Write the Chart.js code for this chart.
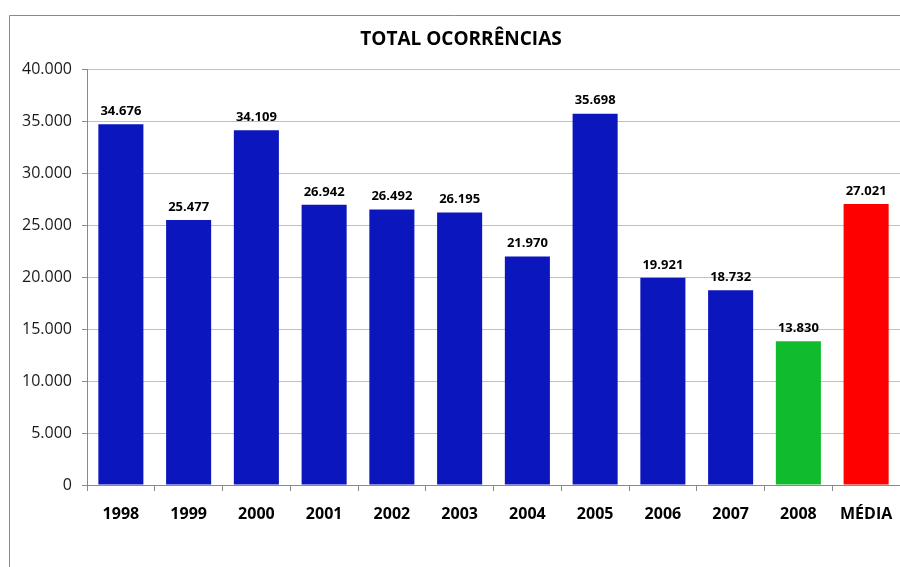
<!DOCTYPE html>
<html>
<head>
<meta charset="utf-8">
<script src="https://cdn.jsdelivr.net/npm/chart.js@4/dist/chart.umd.min.js"></script>
<style>
  body { margin: 0; background: #fff; }
  canvas { display: block; }
</style>
</head>
<body>
<canvas id="myChart" width="900" height="567"></canvas>
<script>
// values
var categories = ['1998', '1999', '2000', '2001', '2002', '2003', '2004', '2005', '2006', '2007', '2008', 'MÉDIA'];
var totals = [34676, 25477, 34109, 26942, 26492, 26195, 21970, 35698, 19921, 18732, 13830, 27021];
var yTicks = [0, 5000, 10000, 15000, 20000, 25000, 30000, 35000, 40000];

var FONT = "'Open Sans', 'Liberation Sans', sans-serif";

function fmt(v) {
    return String(v).replace(/\B(?=(\d{3})+(?!\d))/g, '.');
}

var barColors = categories.map(function(c) {
    if (c === 'MÉDIA') return '#ff0000';
    if (c === '2008') return '#10bc2e';
    return '#0c16bd';
});

// frame, title and the value labels above the bars
var extras = {
    id: 'extras',
    beforeDraw: function(chart) {
        var c = chart.ctx;
        c.save();
        c.strokeStyle = '#8a8a8a';
        c.lineWidth = 1;
        c.beginPath();
        c.moveTo(9.5, 567);
        c.lineTo(9.5, 15.5);
        c.lineTo(900, 15.5);
        c.stroke();
        c.restore();
    },
    afterDatasetsDraw: function(chart) {
        var c = chart.ctx;
        c.save();
        c.font = 'bold 19px ' + FONT;
        c.fillStyle = '#000';
        c.textAlign = 'center';
        c.textBaseline = 'middle';
        c.fillText('TOTAL OCORRÊNCIAS', 461, 40);

        c.font = 'bold 13px ' + FONT;
        var meta = chart.getDatasetMeta(0);
        meta.data.forEach(function(bar, i) {
            c.fillText(fmt(totals[i]), bar.x, bar.y - 13);
        });
        c.restore();
    }
};

var ctx = document.getElementById('myChart');
var myChart = new Chart(ctx, {
    type: 'bar',
    data: {
        labels: categories,
        datasets: [{
            data: totals,
            backgroundColor: barColors,
            borderWidth: 0,
            categoryPercentage: 1,
            barPercentage: 0.665
        }]
    },
    options: {
        responsive: false,
        animation: false,
        layout: { padding: { top: 69, right: 0, left: 0, bottom: 0 } },
        plugins: {
            legend: { display: false },
            title: { display: false },
            tooltip: { enabled: false }
        },
        scales: {
            x: {
                grid: {
                    offset: true,
                    drawOnChartArea: false,
                    tickLength: 6,
                    color: '#8a8a8a'
                },
                border: { color: '#8a8a8a' },
                ticks: {
                    color: '#000',
                    padding: 14,
                    font: { family: FONT, size: 16, weight: 'bold' }
                },
                afterFit: function(scale) {
                    scale.height = 82;
                    scale.paddingLeft = 0;
                    scale.paddingRight = 0;
                }
            },
            y: {
                min: 0,
                max: 40000,
                afterBuildTicks: function(scale) {
                    scale.ticks = yTicks.map(function(v) { return { value: v }; });
                },
                grid: {
                    color: '#c0c0c0',
                    tickColor: '#8a8a8a',
                    tickLength: 5,
                    lineWidth: 1
                },
                border: { color: '#8a8a8a' },
                ticks: {
                    color: '#1a1a1a',
                    padding: 10,
                    font: { family: FONT, size: 16 },
                    callback: function(v) { return fmt(v); }
                },
                afterFit: function(scale) { scale.width = 87; }
            }
        }
    },
    plugins: [extras]
});
</script>
</body>
</html>
